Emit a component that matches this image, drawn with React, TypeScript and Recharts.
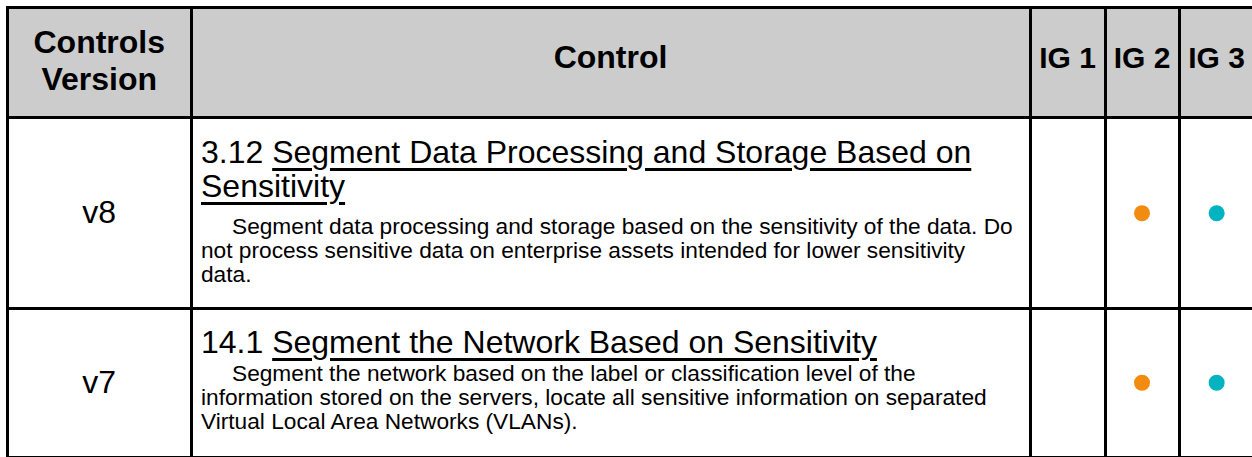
import React from 'react';
import { ScatterChart, Scatter, XAxis, YAxis } from 'recharts';

// ---------- data ----------
const HEADER_LABELS = ['Controls\nVersion', 'Control', 'IG 1', 'IG 2', 'IG 3'];
const VERSIONS = ['v8', 'v7'];
const CONTROL_IDS = ['3.12', '14.1'];
const CONTROL_TITLE_LINES = [
  ['Segment Data Processing and Storage Based on', 'Sensitivity'],
  ['Segment the Network Based on Sensitivity'],
];
const DESCRIPTION_LINES = [
  [
    'Segment data processing and storage based on the sensitivity of the data. Do',
    'not process sensitive data on enterprise assets intended for lower sensitivity',
    'data.',
  ],
  [
    'Segment the network based on the label or classification level of the',
    'information stored on the servers, locate all sensitive information on separated',
    'Virtual Local Area Networks (VLANs).',
  ],
];
const IG_LEVELS = [1, 2, 3];
const IG1_APPLIES = [false, false];
const IG2_APPLIES = [true, true];
const IG3_APPLIES = [true, true];
const IG_COLORS = ['#4a90c8', '#f28c10', '#00b3c0'];

// ---------- layout ----------
const V = [7.5, 191, 1030, 1105, 1179, 1254];
const H = [7.5, 117.5, 308, 457.5];
const LINE_W = 3;
const FONT = '"Liberation Sans", Arial, Helvetica, sans-serif';
const DESC_GAP = [11, 2];

const applies = [IG1_APPLIES, IG2_APPLIES, IG3_APPLIES];

function Dot(props: any) {
  const { cx, cy, fill } = props;
  if (cx == null || cy == null) return null;
  return <circle cx={cx} cy={cy} r={8} fill={fill} />;
}

function RowDots({ row }: { row: number }) {
  const width = V[5] - V[2];
  const height = H[row + 2] - H[row + 1];
  const series = IG_LEVELS.map((lvl, i) => ({
    lvl,
    color: IG_COLORS[i],
    data: applies[i][row] ? [{ ig: lvl, version: VERSIONS[row] }] : [],
  }));
  return (
    <div style={{ position: 'absolute', left: V[2], top: H[row + 1], width, height }}>
      <ScatterChart width={width} height={height} margin={{ top: 0, right: 0, bottom: 0, left: 0 }}>
        <XAxis type="number" dataKey="ig" domain={[0.5, 3.5]} hide />
        <YAxis type="category" dataKey="version" allowDuplicatedCategory={false} hide />
        {series.map((s) => (
          <Scatter
            key={s.lvl}
            data={s.data}
            fill={s.color}
            shape={<Dot />}
            isAnimationActive={false}
          />
        ))}
      </ScatterChart>
    </div>
  );
}

export default function App() {
  const headerShift = [2, 5, 5, 5, 5];
  return (
    <div
      style={{
        position: 'relative',
        width: 1252,
        height: 457,
        overflow: 'hidden',
        background: '#ffffff',
        fontFamily: FONT,
        color: '#000',
      }}
    >
      <style>{'html,body{margin:0;padding:0;overflow:hidden;}'}</style>
      {/* header background */}
      <div
        style={{
          position: 'absolute',
          left: V[0],
          top: H[0],
          width: V[5] - V[0],
          height: H[1] - H[0],
          background: '#cccccc',
        }}
      />
      {/* header labels */}
      {HEADER_LABELS.map((label, i) => (
        <div
          key={label}
          style={{
            position: 'absolute',
            left: V[i],
            top: H[0],
            width: V[i + 1] - V[i],
            height: H[1] - H[0] - headerShift[i] * 2,
            display: 'flex',
            alignItems: 'center',
            justifyContent: 'center',
            textAlign: 'center',
            whiteSpace: 'pre',
            fontWeight: 'bold',
            fontSize: i >= 2 ? 30 : 32,
            lineHeight: '37px',
          }}
        >
          {label}
        </div>
      ))}
      {/* body rows */}
      {VERSIONS.map((ver, r) => (
        <React.Fragment key={ver}>
          <div
            style={{
              position: 'absolute',
              left: V[0],
              top: H[r + 1],
              width: V[1] - V[0],
              height: H[r + 2] - H[r + 1],
              display: 'flex',
              alignItems: 'center',
              justifyContent: 'center',
              fontSize: 32,
            }}
          >
            {ver}
          </div>
          <div
            style={{
              position: 'absolute',
              left: V[1] + 10,
              top: H[r + 1] + 17,
              whiteSpace: 'nowrap',
            }}
          >
            {CONTROL_TITLE_LINES[r].map((line, j) => (
              <div key={j} style={{ fontSize: 32, lineHeight: '34px', height: 34 }}>
                {j === 0 ? CONTROL_IDS[r] + ' ' : ''}
                <span
                  style={{
                    textDecoration: 'underline',
                    textDecorationThickness: '2.5px',
                    textUnderlineOffset: '4.5px',
                  }}
                >
                  {line}
                </span>
              </div>
            ))}
            <div style={{ marginTop: DESC_GAP[r] }}>
              {DESCRIPTION_LINES[r].map((line, j) => (
                <div
                  key={j}
                  style={{
                    fontSize: 22.7,
                    lineHeight: '24px',
                    height: 24,
                    paddingLeft: j === 0 ? 31 : 0,
                  }}
                >
                  {line}
                </div>
              ))}
            </div>
          </div>
          <RowDots row={r} />
        </React.Fragment>
      ))}
      {/* grid lines */}
      {V.map((x, i) => (
        <div
          key={'v' + i}
          style={{
            position: 'absolute',
            left: x - LINE_W / 2,
            top: H[0] - LINE_W / 2,
            width: LINE_W,
            height: 470,
            background: '#000',
          }}
        />
      ))}
      {H.map((y, i) => (
        <div
          key={'h' + i}
          style={{
            position: 'absolute',
            left: V[0] - LINE_W / 2,
            top: y - LINE_W / 2,
            width: 1260,
            height: LINE_W,
            background: '#000',
          }}
        />
      ))}
    </div>
  );
}
